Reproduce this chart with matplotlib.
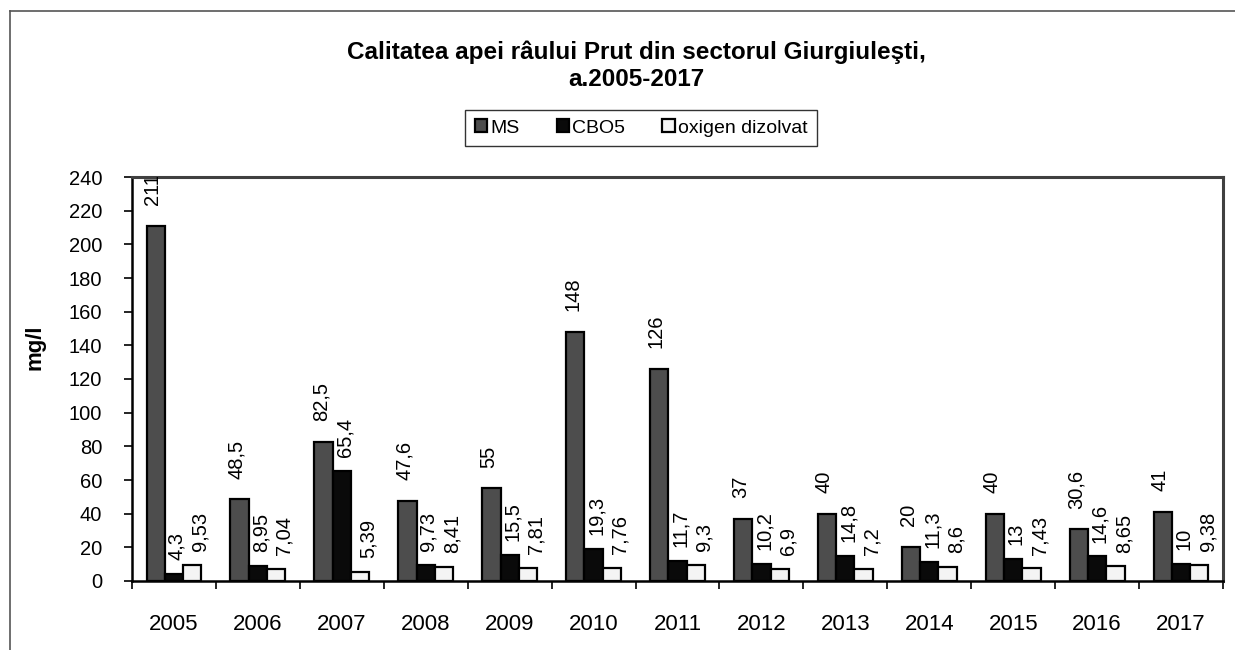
import numpy as np
import matplotlib
matplotlib.use("Agg")
import matplotlib.pyplot as plt
from matplotlib.lines import Line2D

plt.rcParams['font.family'] = ['Liberation Sans', 'DejaVu Sans']

years = ['2005', '2006', '2007', '2008', '2009', '2010', '2011',
         '2012', '2013', '2014', '2015', '2016', '2017']
ms = [211, 48.5, 82.5, 47.6, 55, 148, 126, 37, 40, 20, 40, 30.6, 41]
cbo5 = [4.3, 8.95, 65.4, 9.73, 15.5, 19.3, 11.7, 10.2, 14.8, 11.3, 13, 14.6, 10]
oxigen = [9.53, 7.04, 5.39, 8.41, 7.81, 7.76, 9.3, 6.9, 7.2, 8.6, 7.43, 8.65, 9.38]
series_names = ['MS', 'CBO5', 'oxigen dizolvat']
colors = ['#4d4d4d', '#0a0a0a', '#f4f4f4']

W, H = 1235, 650
fig = plt.figure(figsize=(W / 100, H / 100), dpi=100)
ax = fig.add_axes([132 / W, 1 - 581 / H, (1223 - 132) / W, (581 - 177) / H])

# outer chart frame (cropped at right and bottom)
fig.add_artist(Line2D([10 / W, 1], [1 - 11 / H, 1 - 11 / H], color='#555555', lw=1.2))
fig.add_artist(Line2D([10 / W, 10 / W], [0, 1 - 11 / H], color='#555555', lw=1.2))

x = np.arange(len(years))
bw = 0.218
label_shift = [0.35, 0.65, 0.95]
label_gap = [15, 10, 10]
for i, (vals, name, c) in enumerate(zip([ms, cbo5, oxigen], series_names, colors)):
    pos = x + (i - 1) * bw
    ax.bar(pos, vals, width=bw, color=c, edgecolor='black', linewidth=1.6, label=name)
    for p, v in zip(pos, vals):
        txt = ('%g' % v).replace('.', ',')
        ax.annotate(txt, (p + (label_shift[i] - 0.5) * bw, v), xytext=(0, label_gap[i]),
                    textcoords='offset points', rotation=90, ha='center', va='bottom',
                    fontsize=14.5, annotation_clip=False, clip_on=True)

ax.set_xlim(-0.5, len(years) - 0.5)
ax.set_ylim(0, 240)
ax.set_yticks(np.arange(0, 241, 20))
ax.set_xticks(x)
ax.set_xticklabels(years)
ax.set_xticks(np.arange(-0.5, len(years), 1), minor=True)
ax.tick_params(axis='x', which='major', length=0, pad=24, labelsize=16)
ax.tick_params(axis='x', which='minor', length=5.5, width=1.2, direction='out')
ax.tick_params(axis='y', length=5.5, width=1.2, direction='out', pad=16, labelsize=14.5)

for s in ['left', 'bottom']:
    ax.spines[s].set_color('black')
    ax.spines[s].set_linewidth(1.8)
for s in ['top', 'right']:
    ax.spines[s].set_color('#404040')
    ax.spines[s].set_linewidth(2.2)

fig.text(35 / W, 1 - 347 / H, 'mg/l', rotation=90, ha='center', va='center',
         fontsize=16, fontweight='bold')
fig.text(636 / W, 1 - 52 / H, 'Calitatea apei râului Prut din sectorul Giurgiuleşti,',
         ha='center', va='center', fontsize=17.5, fontweight='bold')
fig.text(636 / W, 1 - 79 / H, 'a.2005-2017', ha='center', va='center',
         fontsize=17.5, fontweight='bold')

leg = fig.legend(loc='center', bbox_to_anchor=(641 / W, 1 - 128 / H), ncol=3,
                 frameon=True, fancybox=False, edgecolor='black', fontsize=14,
                 handlelength=0.65, handleheight=0.65, handletextpad=0.15,
                 columnspacing=1.9, borderpad=0.5, borderaxespad=0)
leg.get_frame().set_linewidth(1.0)

fig.savefig('out.png', dpi=100)
